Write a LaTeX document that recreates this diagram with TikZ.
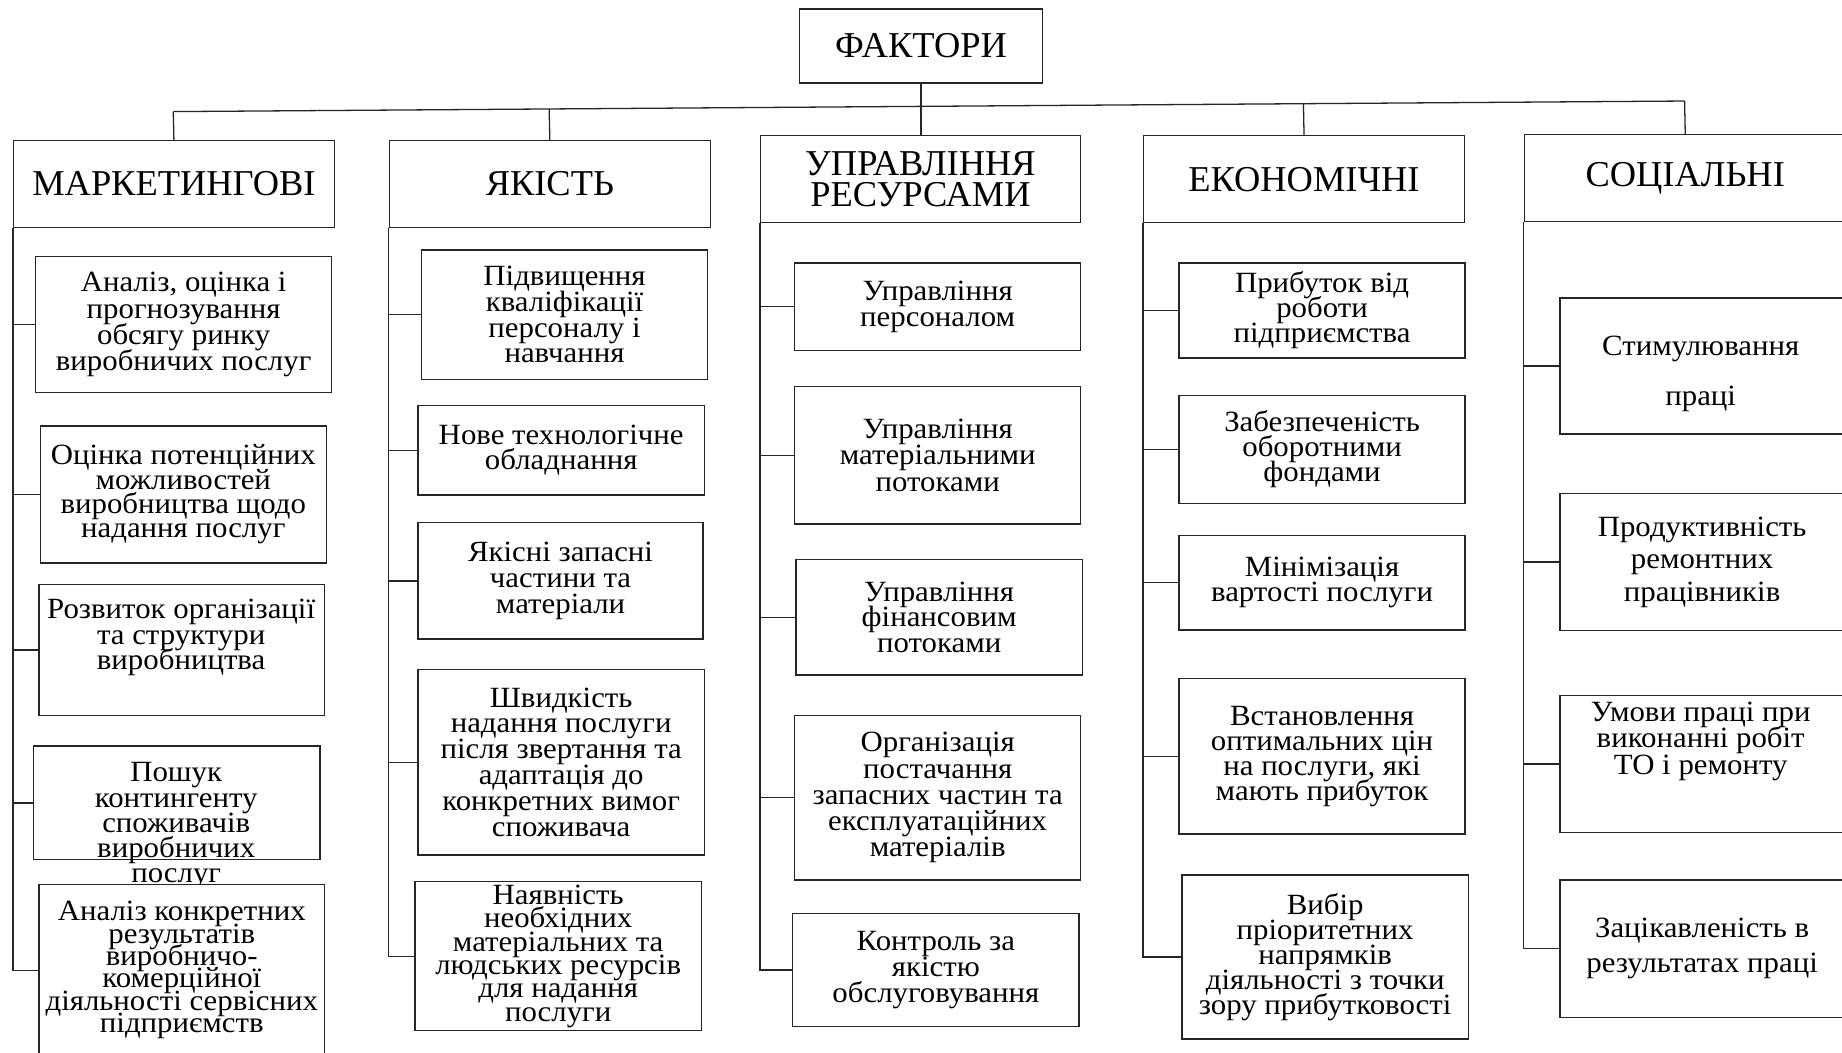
\documentclass[tikz,border=0pt]{standalone}
\usepackage{fontspec}
\setmainfont{Liberation Serif}
\newfontfamily\subfont[FakeStretch=1.05]{Liberation Serif}
\usetikzlibrary{calc}
\definecolor{linec}{HTML}{262626}
\lineskiplimit=-60pt
\AtBeginDocument{\lineskiplimit=-60pt\relax}
\tikzset{
  hbox/.style={draw=linec, line width=1.1pt, fill=white, inner sep=0pt, anchor=north west, align=center,
    font=\fontsize{31}{26}\selectfont},
  sbox/.style={draw=linec, line width=1.1pt, fill=white, inner sep=0pt, anchor=north west, align=center},
  sz/.style 2 args={minimum width=#1pt, minimum height=#2pt},
  sk/.style={font=\subfont\fontsize{25}{#1}\selectfont},
  stxt/.style={inner sep=0pt, align=center},
  conn/.style={draw=linec, line width=1.1pt}
}
\begin{document}
\begin{tikzpicture}[x=1pt,y=-1pt]
\useasboundingbox (0,0) rectangle (1568,896);
\fill[white] (0,0) rectangle (1568,896);
\clip (0,0) rectangle (1568,896);

% top
\node[hbox, sz={207}{63}] (fh) at (680,7) {ФАКТОРИ};
\node[hbox, sz={273}{74}] (mh) at (11,119) {МАРКЕТИНГОВІ};
\node[hbox, sz={273}{74}] (qh) at (331,119) {ЯКІСТЬ};
\node[hbox, sz={272}{74}] (rh) at (647,115) {УПРАВЛІННЯ\\РЕСУРСАМИ};
\node[hbox, sz={273}{74}] (eh) at (973,115) {ЕКОНОМІЧНІ};
\node[hbox, sz={274}{74}] (sh) at (1297,114) {СОЦІАЛЬНІ};

\coordinate (busL) at (147.5,95);
\coordinate (busR) at (1434,86);
\draw[conn] (busL) -- (busR);
\draw[conn] (mh.north) -- (busL);
\draw[conn] (qh.north) -- ($(busL)!0.2487!(busR)$);
\draw[conn] (eh.north) -- ($(busL)!0.7478!(busR)$);
\draw[conn] (sh.north) -- (busR);
\draw[conn] (fh.south) -- (fh.south |- rh.north);

% column 1
\node[sbox, sz={252}{116}, sk=22.2] (m1) at (29.8,217.7) {Аналіз, оцінка і\\прогнозування\\обсягу ринку\\виробничих послуг};
\node[sbox, sz={243.4}{116.7}, sk=20.8] (m2) at (33.8,362) {Оцінка потенційних\\можливостей\\виробництва щодо\\надання послуг};
\node[sbox, sz={243.2}{111.8}] (m3) at (32.6,496.9) {};
\node[stxt, sk=22] (m3t) at (154.2,542.7) {Розвиток організації\\та структури\\виробництва};
\node[sbox, sz={243.7}{96.8}] (m4) at (28.1,634.5) {};
\node[stxt, sk=21.5] (m4t) at (150,703) {Пошук\\контингенту\\споживачів\\виробничих\\послуг};
\node[sbox, sz={243.2}{146}, sk=19] (m5) at (32.6,752.3) {Аналіз конкретних\\результатів\\виробничо-\\комерційної\\діяльності сервісних\\підприємств};
\draw[conn] (mh.south west) |- (m5.west);
\foreach \b in {m1,m2,m3,m4} \draw[conn] (\b.west) -- (\b.west -| mh.west);

% column 2
\node[sbox, sz={243.8}{110.2}, sk=21.8] (q1) at (358.1,212.2) {Підвищення\\кваліфікації\\персоналу і\\навчання};
\node[sbox, sz={243.7}{76.3}, sk=21.3] (q2) at (355.3,344.5) {Нове технологічне\\обладнання};
\node[sbox, sz={242.6}{99}, sk=22] (q3) at (355.3,444.4) {Якісні запасні\\частини та\\матеріали};
\node[sbox, sz={243.7}{157.8}, sk=22.1] (q4) at (355.3,569.5) {Швидкість\\надання послуги\\після звертання та\\адаптація до\\конкретних вимог\\споживача};
\node[sbox, sz={243.8}{126.8}, sk=19.9] (q5) at (352.7,750) {Наявність\\необхідних\\матеріальних та\\людських ресурсів\\для надання\\послуги};
\draw[conn] (qh.south west) |- (q5.west);
\foreach \b in {q1,q2,q3,q4} \draw[conn] (\b.west) -- (\b.west -| qh.west);

% column 3
\node[sbox, sz={243.5}{74.7}, sk=22.7] (r1) at (675.9,223.3) {Управління\\персоналом};
\node[sbox, sz={243.5}{117.2}, sk=22.7] (r2) at (675.9,328.3) {Управління\\матеріальними\\потоками};
\node[sbox, sz={243.8}{98.1}, sk=22] (r3) at (677,475.9) {Управління\\фінансовим\\потоками};
\node[sbox, sz={243.5}{139.8}, sk=22.35] (r4) at (675.9,608.7) {Організація\\постачання\\запасних частин та\\експлуатаційних\\матеріалів};
\node[sbox, sz={243.8}{96.1}, sk=22] (r5) at (674.2,777) {Контроль за\\якістю\\обслуговування};
\draw[conn] (rh.south west) |- (r5.west);
\foreach \b in {r1,r2,r3,r4} \draw[conn] (\b.west) -- (\b.west -| rh.west);

% column 4
\node[sbox, sz={243.5}{80.9}, sk=21.3] (e1) at (1003.1,223.3) {Прибуток від\\роботи\\підприємства};
\node[sbox, sz={243.5}{91.6}, sk=21.3] (e2) at (1003.1,336.3) {Забезпеченість\\оборотними\\фондами};
\node[sbox, sz={243.5}{80.3}, sk=21.3] (e3) at (1003.1,455.4) {Мінімізація\\вартості послуги};
\node[sbox, sz={243.5}{132.5}, sk=21.3] (e4) at (1003.1,576.9) {Встановлення\\оптимальних цін\\на послуги, які\\мають прибуток};
\node[sbox, sz={243.8}{139.6}, sk=21.3] (e5) at (1005.6,744.3) {Вибір\\пріоритетних\\напрямків\\діяльності з точки\\зору прибутковості};
\draw[conn] (eh.south west) |- (e5.west);
\foreach \b in {e1,e2,e3,e4} \draw[conn] (\b.west) -- (\b.west -| eh.west);

% column 5
\node[sbox, sz={242}{115.8}] (s1) at (1327.4,253.1) {};
\node[stxt, sk=42.6] (s1t) at (1447.7,318.5) {Стимулювання\\праці};
\node[sbox, sz={242}{116.9}, sk=27.6] (s2) at (1327.4,419.4) {Продуктивність\\ремонтних\\працівників};
\node[sbox, sz={242}{116.4}] (s3) at (1327.4,591.6) {};
\node[stxt, sk=22.6] (s3t) at (1447.7,631) {Умови праці при\\виконанні робіт\\ТО і ремонту};
\node[sbox, sz={242}{117}, sk=29.8] (s4) at (1327.4,748.5) {Зацікавленість в\\результатах праці};
\draw[conn] (sh.south west) |- (s4.west);
\foreach \b in {s1,s2,s3} \draw[conn] (\b.west) -- (\b.west -| sh.west);
\end{tikzpicture}
\end{document}
